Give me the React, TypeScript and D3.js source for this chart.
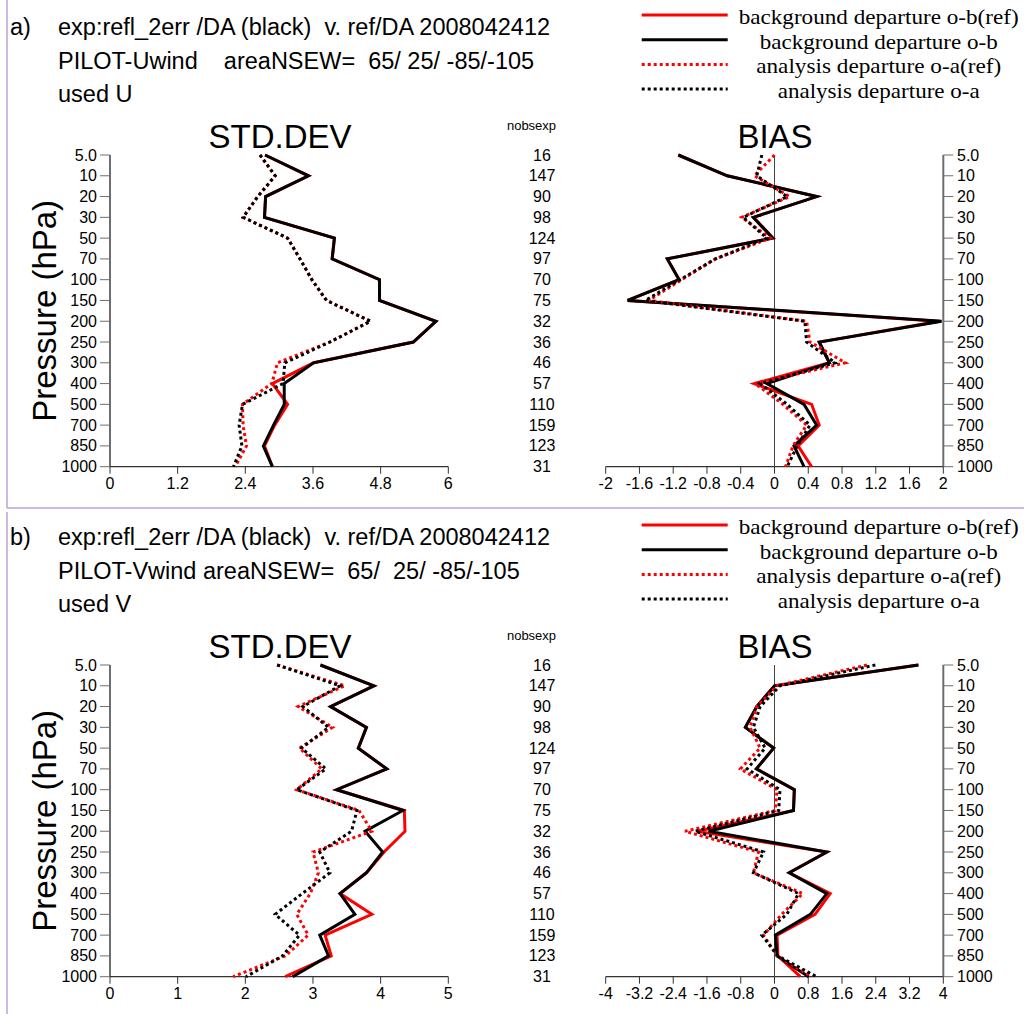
import React from "react";
import * as d3 from "d3";

// Pressure levels (hPa), top to bottom, and observation counts per level
const LEVELS = ["5.0", "10", "20", "30", "50", "70", "100", "150", "200", "250", "300", "400", "500", "700", "850", "1000"];
const NOBS = [16, 147, 90, 98, 124, 97, 70, 75, 32, 36, 46, 57, 110, 159, 123, 31];

// PILOT U-wind: standard deviation
const U_STD_OB_REF = [2.75, 3.52, 2.76, 2.74, 3.98, 3.94, 4.78, 4.78, 5.78, 5.38, 3.61, 2.88, 3.15, 2.92, 2.74, 2.88];
const U_STD_OB = [2.75, 3.52, 2.76, 2.74, 3.98, 3.94, 4.78, 4.78, 5.78, 5.38, 3.61, 3.09, 3.09, 2.9, 2.72, 2.88];
const U_STD_OA_REF = [2.66, 2.93, 2.62, 2.36, 3.15, 3.37, 3.58, 3.84, 4.62, 3.9, 2.97, 2.87, 2.35, 2.36, 2.42, 2.22];
const U_STD_OA = [2.66, 2.93, 2.62, 2.36, 3.15, 3.37, 3.58, 3.84, 4.62, 3.9, 3.1, 3.07, 2.35, 2.29, 2.34, 2.19];

// PILOT U-wind: bias
const U_BIAS_OB_REF = [-1.14, -0.56, 0.5, -0.25, -0.02, -1.27, -1.13, -1.74, 1.95, 0.53, 0.65, -0.24, 0.44, 0.53, 0.28, 0.44];
const U_BIAS_OB = [-1.14, -0.56, 0.5, -0.25, -0.02, -1.27, -1.13, -1.74, 1.98, 0.53, 0.65, -0.09, 0.35, 0.5, 0.23, 0.35];
const U_BIAS_OA_REF = [0.0, -0.24, 0.18, -0.39, -0.05, -0.7, -1.1, -1.49, 0.38, 0.42, 0.84, -0.23, 0.1, 0.38, 0.22, 0.13];
const U_BIAS_OA = [-0.15, -0.21, 0.15, -0.37, -0.09, -0.7, -1.12, -1.53, 0.36, 0.38, 0.72, -0.17, 0.15, 0.42, 0.27, 0.15];

// PILOT V-wind: standard deviation
const V_STD_OB_REF = [3.11, 3.9, 3.26, 3.79, 3.67, 4.09, 3.35, 4.35, 4.36, 4.05, 3.79, 3.4, 3.87, 3.18, 3.27, 2.59];
const V_STD_OB = [3.11, 3.9, 3.26, 3.79, 3.67, 4.09, 3.35, 4.33, 3.77, 4.03, 3.79, 3.4, 3.62, 3.1, 3.23, 2.7];
const V_STD_OA_REF = [2.47, 3.47, 2.78, 3.29, 2.8, 3.13, 2.76, 3.68, 3.87, 3.0, 3.08, 2.96, 2.76, 2.93, 2.59, 1.82];
const V_STD_OA = [2.47, 3.4, 2.85, 3.23, 2.83, 3.19, 2.76, 3.65, 3.57, 3.1, 3.25, 2.84, 2.44, 2.8, 2.55, 2.01];

// PILOT V-wind: bias
const V_BIAS_OB_REF = [3.41, 0.0, -0.42, -0.69, -0.02, -0.43, 0.47, 0.45, -1.84, 1.24, 0.35, 1.32, 0.96, 0.06, 0.08, 0.61];
const V_BIAS_OB = [3.41, 0.0, -0.42, -0.69, -0.02, -0.43, 0.47, 0.45, -1.56, 1.24, 0.35, 1.24, 0.85, 0.02, 0.06, 0.81];
const V_BIAS_OA_REF = [2.19, 0.06, -0.42, -0.58, -0.34, -0.81, 0.06, 0.02, -2.12, -0.38, -0.5, 0.67, 0.17, -0.26, 0.06, 0.88];
const V_BIAS_OA = [2.39, 0.13, -0.34, -0.5, -0.22, -0.65, 0.13, 0.1, -1.88, -0.26, -0.5, 0.57, 0.29, -0.3, 0.08, 1.0];

// Axis ticks
const U_STD_TICKS = [0, 1.2, 2.4, 3.6, 4.8, 6];
const U_BIAS_TICKS = [-2, -1.6, -1.2, -0.8, -0.4, 0, 0.4, 0.8, 1.2, 1.6, 2];
const V_STD_TICKS = [0, 1, 2, 3, 4, 5];
const V_BIAS_TICKS = [-4, -3.2, -2.4, -1.6, -0.8, 0, 0.8, 1.6, 2.4, 3.2, 4];

// Legend entries
const SERIES_LABELS = [
  "background departure o-b(ref)",
  "background departure o-b",
  "analysis departure o-a(ref)",
  "analysis departure o-a",
];

const SANS = "'Liberation Sans', Arial, sans-serif";
const SERIF = "'Liberation Serif', 'Times New Roman', serif";
const STYLES = [
  { color: "#ff0000", dash: undefined },
  { color: "#000000", dash: undefined },
  { color: "#ff0000", dash: "3 3" },
  { color: "#000000", dash: "3 3" },
];
const LEGEND_WIDTHS = [280, 238, 245, 202];
const AXIS = "#6e6e6e";

type PanelProps = {
  top: number;
  tag: string;
  header: string[];
  std: number[][];
  bias: number[][];
  stdMax: number;
  stdTicks: number[];
  biasMax: number;
  biasTicks: number[];
};

function Panel({ top, tag, header, std, bias, stdMax, stdTicks, biasMax, biasTicks }: PanelProps) {
  const y = d3.scalePoint<string>().domain(LEVELS).range([155, 466.7]);
  const xs = d3.scaleLinear().domain([0, stdMax]).range([110, 448.3]);
  const xb = d3.scaleLinear().domain([-biasMax, biasMax]).range([605.7, 943.3]);
  const y0 = y(LEVELS[0])!;
  const y1 = y(LEVELS[LEVELS.length - 1])!;

  const lineFor = (x: d3.ScaleLinear<number, number>) =>
    d3
      .line<number>()
      .x((d) => x(d))
      .y((_, i) => y(LEVELS[i])!);

  const stdLine = lineFor(xs);
  const biasLine = lineFor(xb);

  return (
    <g transform={`translate(0,${top})`}>
      {/* header */}
      <text x={10} y={35} fontFamily={SANS} fontSize={23.5}>{tag}</text>
      {header.map((t, i) => (
        <text key={i} x={58} y={35 + i * 33.5} fontFamily={SANS} fontSize={23.5} style={{ whiteSpace: "pre" }}>
          {t}
        </text>
      ))}

      {/* legend */}
      {SERIES_LABELS.map((lab, i) => (
        <g key={lab}>
          <line
            x1={641.7}
            x2={727.7}
            y1={15 + i * 24.7}
            y2={15 + i * 24.7}
            stroke={STYLES[i].color}
            strokeWidth={3}
            strokeDasharray={STYLES[i].dash}
          />
          <text
            x={878.7}
            y={24 + i * 24.7}
            textAnchor="middle"
            fontFamily={SERIF}
            fontSize={21}
            textLength={LEGEND_WIDTHS[i]}
            lengthAdjust="spacingAndGlyphs"
          >
            {lab}
          </text>
        </g>
      ))}

      {/* titles */}
      <text x={280} y={148} textAnchor="middle" fontFamily={SANS} fontSize={33}>STD.DEV</text>
      <text x={775} y={148} textAnchor="middle" fontFamily={SANS} fontSize={33}>BIAS</text>
      <text x={531.5} y={130} textAnchor="middle" fontFamily={SANS} fontSize={13}>nobsexp</text>
      <text
        transform={`translate(56,${(y0 + y1) / 2}) rotate(-90)`}
        textAnchor="middle"
        fontFamily={SANS}
        fontSize={33}
      >
        Pressure (hPa)
      </text>

      {/* left pressure axis */}
      <line x1={110} x2={110} y1={y0} y2={y1} stroke={AXIS} strokeWidth={2} />
      {LEVELS.map((lv) => (
        <g key={"l" + lv}>
          <line x1={100} x2={110} y1={y(lv)} y2={y(lv)} stroke={AXIS} strokeWidth={1} />
          <text x={97} y={y(lv)! + 5.5} textAnchor="end" fontFamily={SANS} fontSize={16}>{lv}</text>
        </g>
      ))}

      {/* observation counts */}
      {NOBS.map((n, i) => (
        <text key={"n" + i} x={542} y={y(LEVELS[i])! + 5.5} textAnchor="middle" fontFamily={SANS} fontSize={16}>
          {n}
        </text>
      ))}

      {/* right pressure axis */}
      <line x1={943.3} x2={943.3} y1={y0} y2={y1} stroke={AXIS} strokeWidth={2} />
      {LEVELS.map((lv) => (
        <g key={"r" + lv}>
          <line x1={943.3} x2={953.3} y1={y(lv)} y2={y(lv)} stroke={AXIS} strokeWidth={1} />
          <text x={957} y={y(lv)! + 5.5} fontFamily={SANS} fontSize={16}>{lv}</text>
        </g>
      ))}

      {/* std x axis */}
      <line x1={110} x2={448.3} y1={y1} y2={y1} stroke="#333" strokeWidth={1.3} />
      {stdTicks.map((t) => (
        <g key={"s" + t}>
          <line x1={xs(t)} x2={xs(t)} y1={y1} y2={y1 + 7} stroke="#333" strokeWidth={1} />
          <text x={xs(t)} y={y1 + 22.5} textAnchor="middle" fontFamily={SANS} fontSize={16}>{t}</text>
        </g>
      ))}

      {/* bias x axis */}
      <line x1={605.7} x2={943.3} y1={y1} y2={y1} stroke="#333" strokeWidth={1.3} />
      {biasTicks.map((t) => (
        <g key={"b" + t}>
          <line x1={xb(t)} x2={xb(t)} y1={y1} y2={y1 + 7} stroke="#333" strokeWidth={1} />
          <text x={xb(t)} y={y1 + 22.5} textAnchor="middle" fontFamily={SANS} fontSize={16}>{t}</text>
        </g>
      ))}
      <line x1={xb(0)} x2={xb(0)} y1={y0} y2={y1} stroke="#444" strokeWidth={1} />

      {/* profiles */}
      {std.map((s, i) => (
        <path
          key={"sp" + i}
          d={stdLine(s)!}
          fill="none"
          stroke={STYLES[i].color}
          strokeWidth={3}
          strokeDasharray={STYLES[i].dash}
          strokeLinejoin="miter"
        />
      ))}
      {bias.map((s, i) => (
        <path
          key={"bp" + i}
          d={biasLine(s)!}
          fill="none"
          stroke={STYLES[i].color}
          strokeWidth={3}
          strokeDasharray={STYLES[i].dash}
          strokeLinejoin="miter"
        />
      ))}
    </g>
  );
}

export default function App() {
  return (
    <svg
      width={1024}
      height={1014}
      viewBox="0 0 1024 1014"
      style={{ position: "absolute", left: 0, top: 0, background: "#fff" }}
    >
      <rect width={1024} height={1014} fill="#fff" />
      {/* frame lines */}
      <line x1={7} x2={7} y1={0} y2={508} stroke="#b9a3dc" strokeWidth={1.5} />
      <line x1={7} x2={1024} y1={508} y2={508} stroke="#b9a3dc" strokeWidth={1.5} />
      <line x1={7} x2={7} y1={512} y2={1014} stroke="#b9a3dc" strokeWidth={1.5} />

      <Panel
        top={0}
        tag="a)"
        header={["exp:refl_2err /DA (black)  v. ref/DA 2008042412", "PILOT-Uwind    areaNSEW=  65/ 25/ -85/-105", "used U"]}
        std={[U_STD_OB_REF, U_STD_OB, U_STD_OA_REF, U_STD_OA]}
        bias={[U_BIAS_OB_REF, U_BIAS_OB, U_BIAS_OA_REF, U_BIAS_OA]}
        stdMax={6}
        stdTicks={U_STD_TICKS}
        biasMax={2}
        biasTicks={U_BIAS_TICKS}
      />
      <Panel
        top={510}
        tag="b)"
        header={["exp:refl_2err /DA (black)  v. ref/DA 2008042412", "PILOT-Vwind areaNSEW=  65/  25/ -85/-105", "used V"]}
        std={[V_STD_OB_REF, V_STD_OB, V_STD_OA_REF, V_STD_OA]}
        bias={[V_BIAS_OB_REF, V_BIAS_OB, V_BIAS_OA_REF, V_BIAS_OA]}
        stdMax={5}
        stdTicks={V_STD_TICKS}
        biasMax={4}
        biasTicks={V_BIAS_TICKS}
      />
    </svg>
  );
}
